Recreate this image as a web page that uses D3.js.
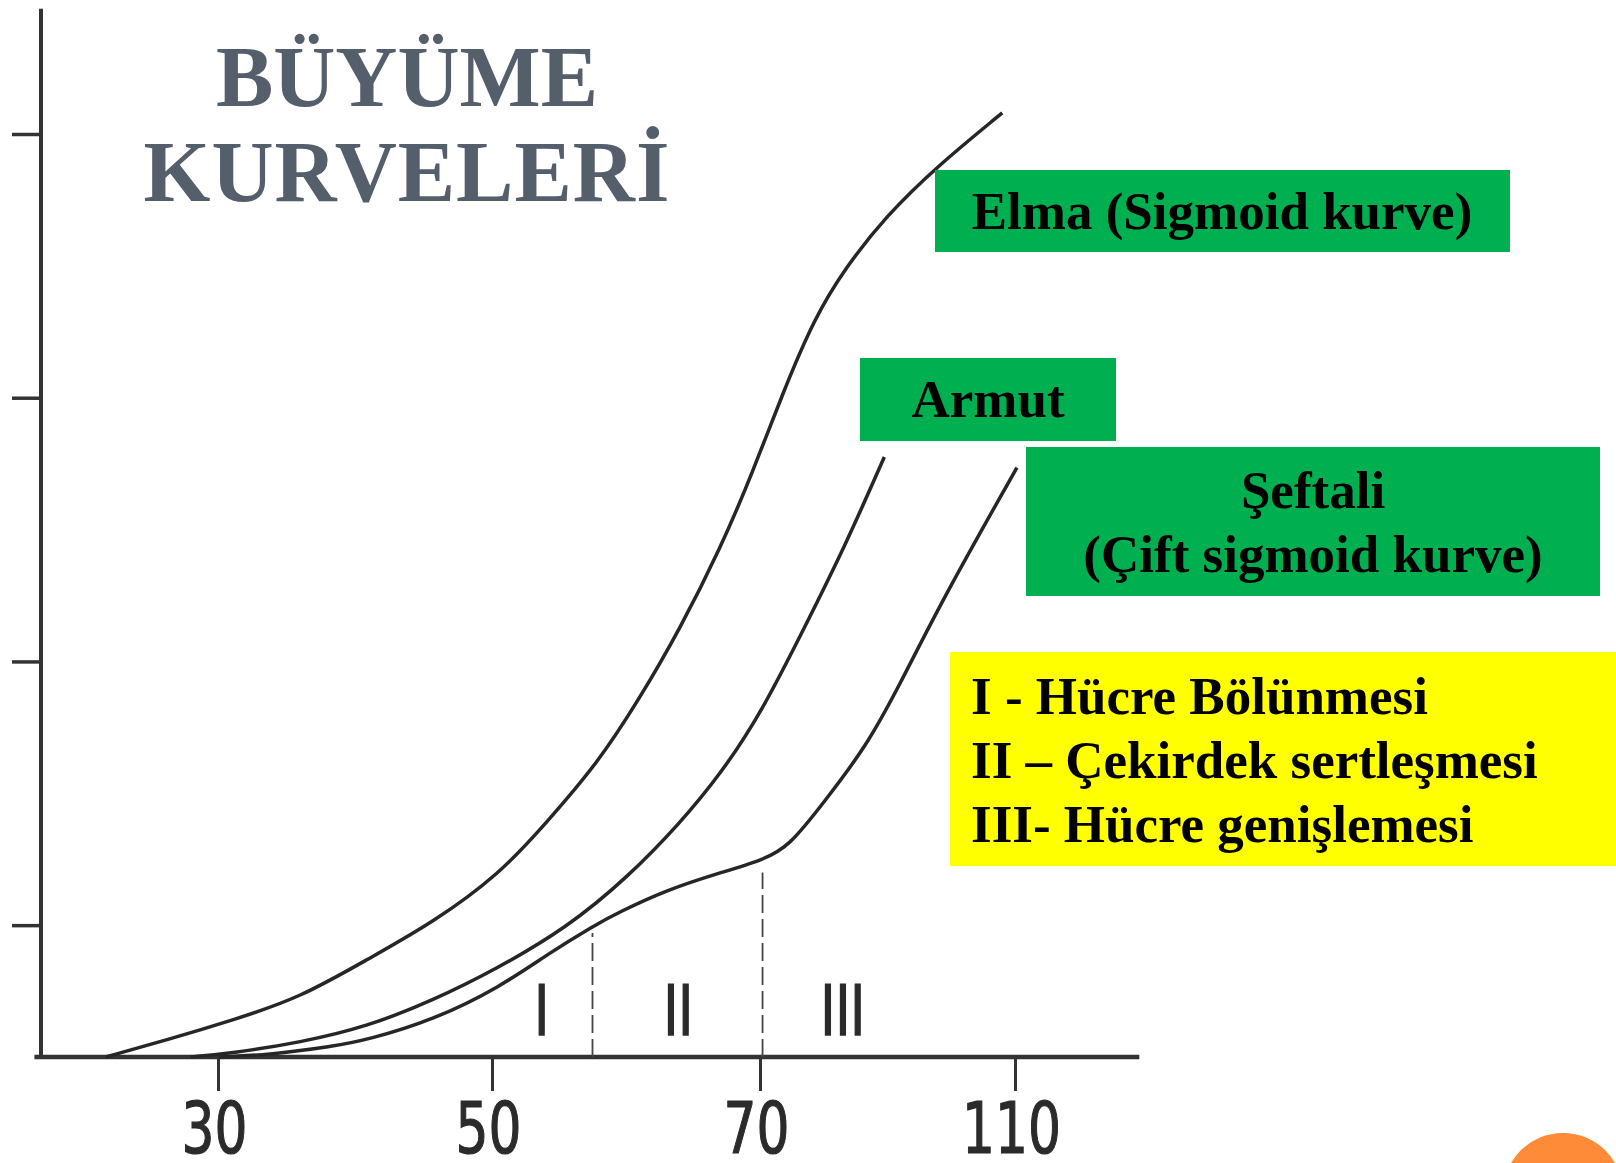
<!DOCTYPE html>
<meta charset="utf-8">
<script src="https://d3js.org/d3.v7.min.js"></script>
<style>
  body { margin: 0; background: #fff; }
  .curve { fill: none; stroke: #262626; stroke-width: 3.5; }
  .box-text { font-family: "Liberation Serif", "Times New Roman", serif; font-weight: bold; font-size: 53px; fill: #000; }
</style>
<body>
<script>
// x axis tick labels (days) and y axis tick values
var xTicks = [30, 50, 70, 110];
var yTicks = [1, 3, 5, 7];

// growth curves: [day, size]
var elma = [[21.8,0],[26.3,0.13],[31.1,0.28],[36.0,0.45],[40.9,0.74],[45.7,1.02],[50.6,1.39],
  [54.0,1.77],[57.9,2.23],[60.9,2.70],[64.0,3.24],[67.1,3.87],[69.4,4.42],[73.6,5.04],
  [78.5,5.60],[83.3,5.98],[89.8,6.38],[97.9,6.76],[108.0,7.16]];
var armut = [[28.0,0],[31.1,0.03],[36.0,0.11],[40.9,0.23],[45.7,0.43],[50.2,0.66],[55.6,0.98],
  [60.2,1.37],[64.0,1.77],[67.1,2.15],[70.3,2.62],[76.9,3.25],[83.3,3.87],[89.5,4.55]];
var seftali = [[30.1,0],[33.6,0.015],[38.4,0.08],[40.9,0.13],[45.7,0.28],[50.6,0.53],[54.3,0.79],
  [57.5,0.99],[59.3,1.09],[63.1,1.27],[66.8,1.39],[70.2,1.49],[74.5,1.59],[80.3,1.95],
  [86.6,2.35],[91.8,2.81],[98.5,3.46],[110.3,4.47]];

// phase boundaries (dashed) and phase labels
var boundaryDays = [57.5, 70.4];
var boundaryTops = [0.94, 1.40];
var phaseLabels = ["I", "II", "III"];
var phaseDays = [53.7, 63.9, 83.0];
var phaseLevel = 0.36;

var legendLines = ["I - Hücre Bölünmesi", "II \u2013 Çekirdek sertleşmesi", "III- Hücre genişlemesi"];

var width = 1616, height = 1163;

var svg = d3.select("body").append("svg")
    .attr("width", width)
    .attr("height", height);

// piecewise x scale, the axis is not evenly spaced in days
var x = d3.scaleLinear()
    .domain(xTicks)
    .range([218, 492, 760, 1015]);

var y = d3.scaleLinear()
    .domain([0, 7])
    .range([1057, 134]);

// axis lines
svg.append("line")
    .attr("x1", x(16.6)).attr("x2", x(129.5))
    .attr("y1", y(0)).attr("y2", y(0))
    .attr("stroke", "#333").attr("stroke-width", 4.5);
svg.append("line")
    .attr("x1", 41).attr("x2", 41)
    .attr("y1", y(0) + 2).attr("y2", y(7.95))
    .attr("stroke", "#333").attr("stroke-width", 4);

// x axis ticks + labels
var xAxis = svg.append("g")
    .attr("transform", "translate(0," + y(0) + ")")
    .call(d3.axisBottom(x).tickValues(xTicks).tickSize(34).tickPadding(11));
xAxis.select(".domain").remove();
xAxis.selectAll("line").attr("stroke", "#333").attr("stroke-width", 3);
xAxis.selectAll("text")
    .attr("fill", "#2b2b2b")
    .attr("stroke", "#2b2b2b")
    .attr("stroke-width", 1.2)
    .style("font-family", "'Liberation Sans Narrow', 'DejaVu Sans Condensed', sans-serif")
    .style("font-size", "72px")
    .attr("transform", "translate(-4,0) scale(0.8,1)");

// y axis ticks, no labels
var yAxis = svg.append("g")
    .attr("transform", "translate(41,0)")
    .call(d3.axisLeft(y).tickValues(yTicks).tickSize(29).tickFormat(""));
yAxis.select(".domain").remove();
yAxis.selectAll("line").attr("stroke", "#333").attr("stroke-width", 3.5);

// curves
var line = d3.line()
    .x(function(d) { return x(d[0]); })
    .y(function(d) { return y(d[1]); })
    .curve(d3.curveBasis);

[elma, armut, seftali].forEach(function(s) {
  svg.append("path").datum(s).attr("class", "curve").attr("d", line);
});

// phase boundaries
svg.selectAll(".boundary")
  .data(boundaryDays)
  .enter().append("line")
    .attr("class", "boundary")
    .attr("x1", function(d) { return x(d); })
    .attr("x2", function(d) { return x(d); })
    .attr("y1", y(0))
    .attr("y2", function(d, i) { return y(boundaryTops[i]); })
    .attr("stroke", "#444")
    .attr("stroke-width", 1.8)
    .attr("stroke-dasharray", "18,6");

svg.selectAll(".phase")
  .data(phaseLabels)
  .enter().append("text")
    .attr("class", "phase")
    .attr("transform", function(d, i) { return "translate(" + x(phaseDays[i]) + "," + y(phaseLevel) + ") scale(0.8,1)"; })
    .attr("dy", "0.36em")
    .attr("text-anchor", "middle")
    .style("font-family", "'Liberation Sans Narrow', 'DejaVu Sans Condensed', sans-serif")
    .style("font-size", "70px")
    .attr("fill", "#2b2b2b")
    .attr("stroke", "#2b2b2b")
    .attr("stroke-width", 1.5)
    .text(function(d) { return d; });

// title
var title = svg.append("text")
    .attr("text-anchor", "middle")
    .style("font-family", "'Liberation Serif', 'Times New Roman', serif")
    .style("font-weight", "bold")
    .style("font-size", "86px")
    .attr("fill", "#555e6b");
title.append("tspan").attr("x", 407).attr("y", 106).text("BÜYÜME");
title.append("tspan").attr("x", 407).attr("y", 201).attr("letter-spacing", "1px").text("KURVELERİ");

// green label boxes
function box(x0, y0, w, h, fill) {
  svg.append("rect").attr("x", x0).attr("y", y0).attr("width", w).attr("height", h).attr("fill", fill);
}
box(935, 170, 575, 82, "#00b050");
svg.append("text").attr("class", "box-text").attr("x", 1222).attr("y", 229)
    .attr("text-anchor", "middle").text("Elma (Sigmoid kurve)");

box(860, 358, 256, 83, "#00b050");
svg.append("text").attr("class", "box-text").attr("x", 988).attr("y", 417)
    .attr("text-anchor", "middle").text("Armut");

box(1026, 447, 574, 149, "#00b050");
svg.append("text").attr("class", "box-text").attr("x", 1313).attr("y", 508)
    .attr("text-anchor", "middle").text("Şeftali");
svg.append("text").attr("class", "box-text").attr("x", 1313).attr("y", 572)
    .attr("text-anchor", "middle").text("(Çift sigmoid kurve)");

// yellow legend
box(950, 652, 666, 214, "#ffff00");
svg.selectAll(".leg")
  .data(legendLines)
  .enter().append("text")
    .attr("class", "leg box-text")
    .attr("x", 971)
    .attr("y", function(d, i) { return 714 + i * 64; })
    .text(function(d) { return d; });

// orange corner circle
svg.append("circle")
    .attr("cx", 1563).attr("cy", 1193).attr("r", 60)
    .attr("fill", "#fd8b37");
</script>
</body>
